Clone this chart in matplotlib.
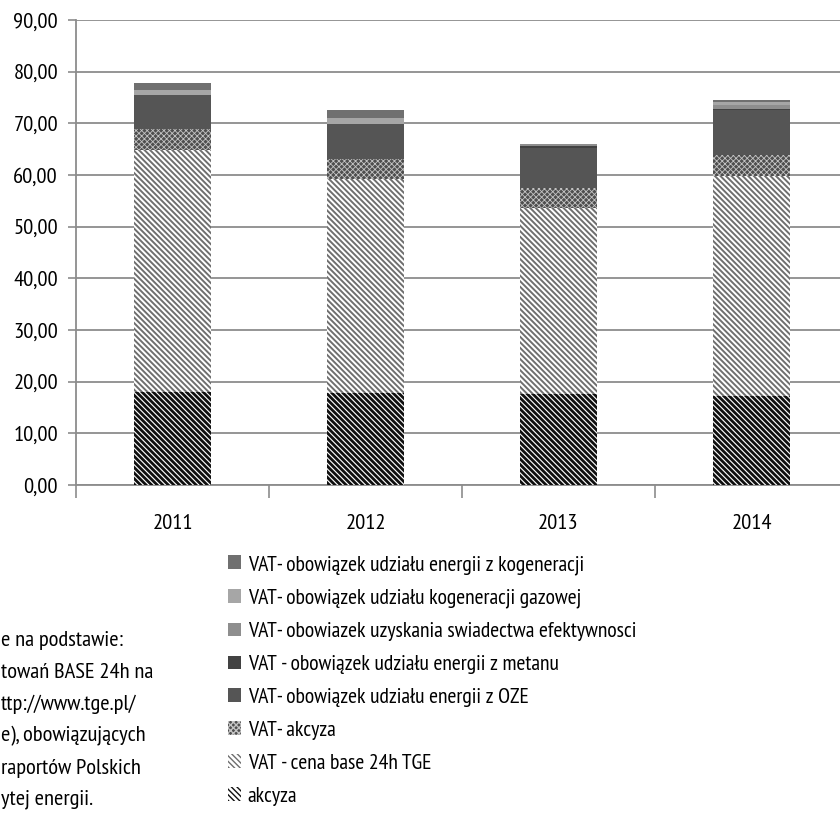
import matplotlib
matplotlib.use("Agg")
import matplotlib.pyplot as plt
from matplotlib.patches import Patch
import numpy as np

plt.rcParams['font.family'] = ['PT Sans Narrow', 'DejaVu Sans']

years = ['2011', '2012', '2013', '2014']
akcyza = [18.05, 17.9, 17.55, 17.3]
vat_cena = [46.75, 41.3, 36.05, 42.6]
vat_akcyza = [4.1, 3.9, 3.95, 4.0]
vat_oze = [6.5, 6.8, 7.7, 8.6]
vat_metan = [0.0, 0.0, 0.4, 0.2]
vat_efekt = [0.0, 0.0, 0.4, 0.8]
vat_kog_gaz = [1.1, 1.2, 0.0, 0.65]
vat_kog = [1.4, 1.5, 0.0, 0.45]

yticks = [0, 10, 20, 30, 40, 50, 60, 70, 80, 90]
ytick_labels = ['0,00', '10,00', '20,00', '30,00', '40,00', '50,00', '60,00', '70,00', '80,00', '90,00']

labels = [
    'akcyza',
    'VAT - cena base 24h TGE',
    'VAT- akcyza',
    'VAT- obowiązek udziału energii z OZE',
    'VAT - obowiązek udziału energii z metanu',
    'VAT- obowiazek uzyskania swiadectwa efektywnosci',
    'VAT- obowiązek udziału kogeneracji gazowej',
    'VAT- obowiązek udziału energii z kogeneracji',
]
series = [akcyza, vat_cena, vat_akcyza, vat_oze, vat_metan, vat_efekt, vat_kog_gaz, vat_kog]

styles = [
    dict(facecolor='white', edgecolor='#101010', hatch='\\' * 6, hlw=2.0),
    dict(facecolor='white', edgecolor='#6e6e6e', hatch='\\' * 6, hlw=1.4),
    dict(facecolor='#4e4e4e', edgecolor='#c4c4c4', hatch='x' * 6, hlw=0.6),
    dict(facecolor='#555555', edgecolor='#555555', hatch=None, hlw=None),
    dict(facecolor='#424242', edgecolor='#424242', hatch=None, hlw=None),
    dict(facecolor='#8e8e8e', edgecolor='#8e8e8e', hatch=None, hlw=None),
    dict(facecolor='#a6a6a6', edgecolor='#a6a6a6', hatch=None, hlw=None),
    dict(facecolor='#707070', edgecolor='#707070', hatch=None, hlw=None),
]

FS = 16.2
LFS = 15.7
W, H = 840, 813
fig = plt.figure(figsize=(W / 100, H / 100), dpi=100)
ax = fig.add_axes([76 / W, (H - 485) / H, 772 / W, 465 / H])

x = np.arange(len(years))
bottom = np.zeros(len(years))
handles = []
for vals, lab, st in zip(series, labels, styles):
    vals = np.array(vals, dtype=float)
    bars = ax.bar(x, vals, width=0.4, bottom=bottom, facecolor=st['facecolor'],
                  edgecolor=st['edgecolor'], hatch=st['hatch'], linewidth=0, zorder=3)
    if st['hlw'] is not None:
        for b in bars:
            if hasattr(b, 'set_hatch_linewidth'):
                b.set_hatch_linewidth(st['hlw'])
    h = Patch(facecolor=st['facecolor'], edgecolor=st['edgecolor'], hatch=st['hatch'], linewidth=0)
    if st['hlw'] is not None and hasattr(h, 'set_hatch_linewidth'):
        h.set_hatch_linewidth(st['hlw'])
    handles.append(h)
    bottom += vals

ax.set_xlim(-0.5, 3.5)
ax.set_ylim(0, 90)
ax.set_yticks(yticks)
ax.set_yticklabels(ytick_labels)
ax.set_xticks(x)
ax.set_xticklabels(years)
ax.set_xticks([-0.5, 0.5, 1.5, 2.5], minor=True)
ax.tick_params(axis='x', which='major', length=0, pad=21, labelsize=FS, colors='black')
ax.tick_params(axis='x', which='minor', length=9, width=1.2, color='#8c8c8c', direction='out')
ax.tick_params(axis='y', length=6, width=1.2, color='#8c8c8c', labelsize=FS, pad=7)
ax.yaxis.grid(True, color='#8c8c8c', linewidth=1.3, zorder=0)
ax.set_axisbelow(True)
for s in ['top', 'right']:
    ax.spines[s].set_visible(False)
for s in ['left', 'bottom']:
    ax.spines[s].set_color('#8c8c8c')
    ax.spines[s].set_linewidth(1.3)

leg = fig.legend(handles[::-1], labels[::-1], loc='upper left',
                 bbox_to_anchor=(228 / W, 1 - 555 / H), frameon=False,
                 fontsize=LFS, handlelength=0.6, handleheight=0.6,
                 handletextpad=0.3, labelspacing=0.64, borderpad=0, borderaxespad=0)

left_lines = ['e na podstawie:', 'towań BASE 24h na', 'ttp://www.tge.pl/',
              'e), obowiązujących', 'raportów Polskich', 'ytej energii.']
left_y = [640, 672, 704, 736, 768, 799]
for t, yy in zip(left_lines, left_y):
    fig.text(1 / W, 1 - yy / H, t, ha='left', va='center', fontsize=FS)

fig.savefig('out.png', dpi=100)
